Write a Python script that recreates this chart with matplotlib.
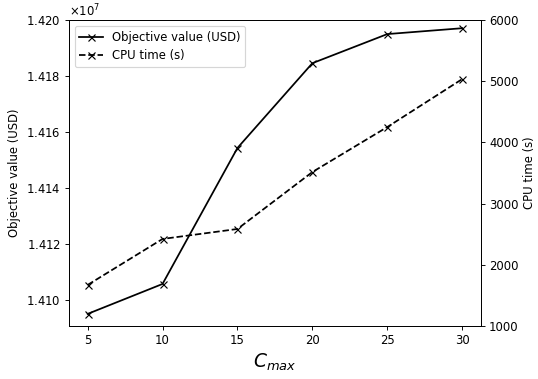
import matplotlib
matplotlib.use("Agg")
import matplotlib.pyplot as plt

cmax = [5, 10, 15, 20, 25, 30]
objective = [1.40950e7, 1.41057e7, 1.41543e7, 1.41846e7, 1.41950e7, 1.41971e7]
cpu_time = [1670, 2422, 2585, 3516, 4252, 5036]

DPI = 84
fig, ax = plt.subplots(figsize=(538 / DPI, 379 / DPI), dpi=DPI)
l1, = ax.plot(cmax, objective, 'k-x', label='Objective value (USD)')
ax.set_ylim(1.40907e7, 1.420e7)
ax.ticklabel_format(axis='y', style='sci', scilimits=(0, 0), useMathText=True)
ax.set_ylabel('Objective value (USD)')
ax.set_xlabel('$C_{max}$', fontsize=16)
ax.set_xticks(cmax)

ax2 = ax.twinx()
l2, = ax2.plot(cmax, cpu_time, 'k--x', label='CPU time (s)')
ax2.set_ylim(1000, 6000)
ax2.set_ylabel('CPU time (s)')

ax.legend(handles=[l1, l2], loc='upper left')
fig.subplots_adjust(left=0.128, right=0.894, top=0.947, bottom=0.14)
fig.savefig('out.png', dpi=DPI)
